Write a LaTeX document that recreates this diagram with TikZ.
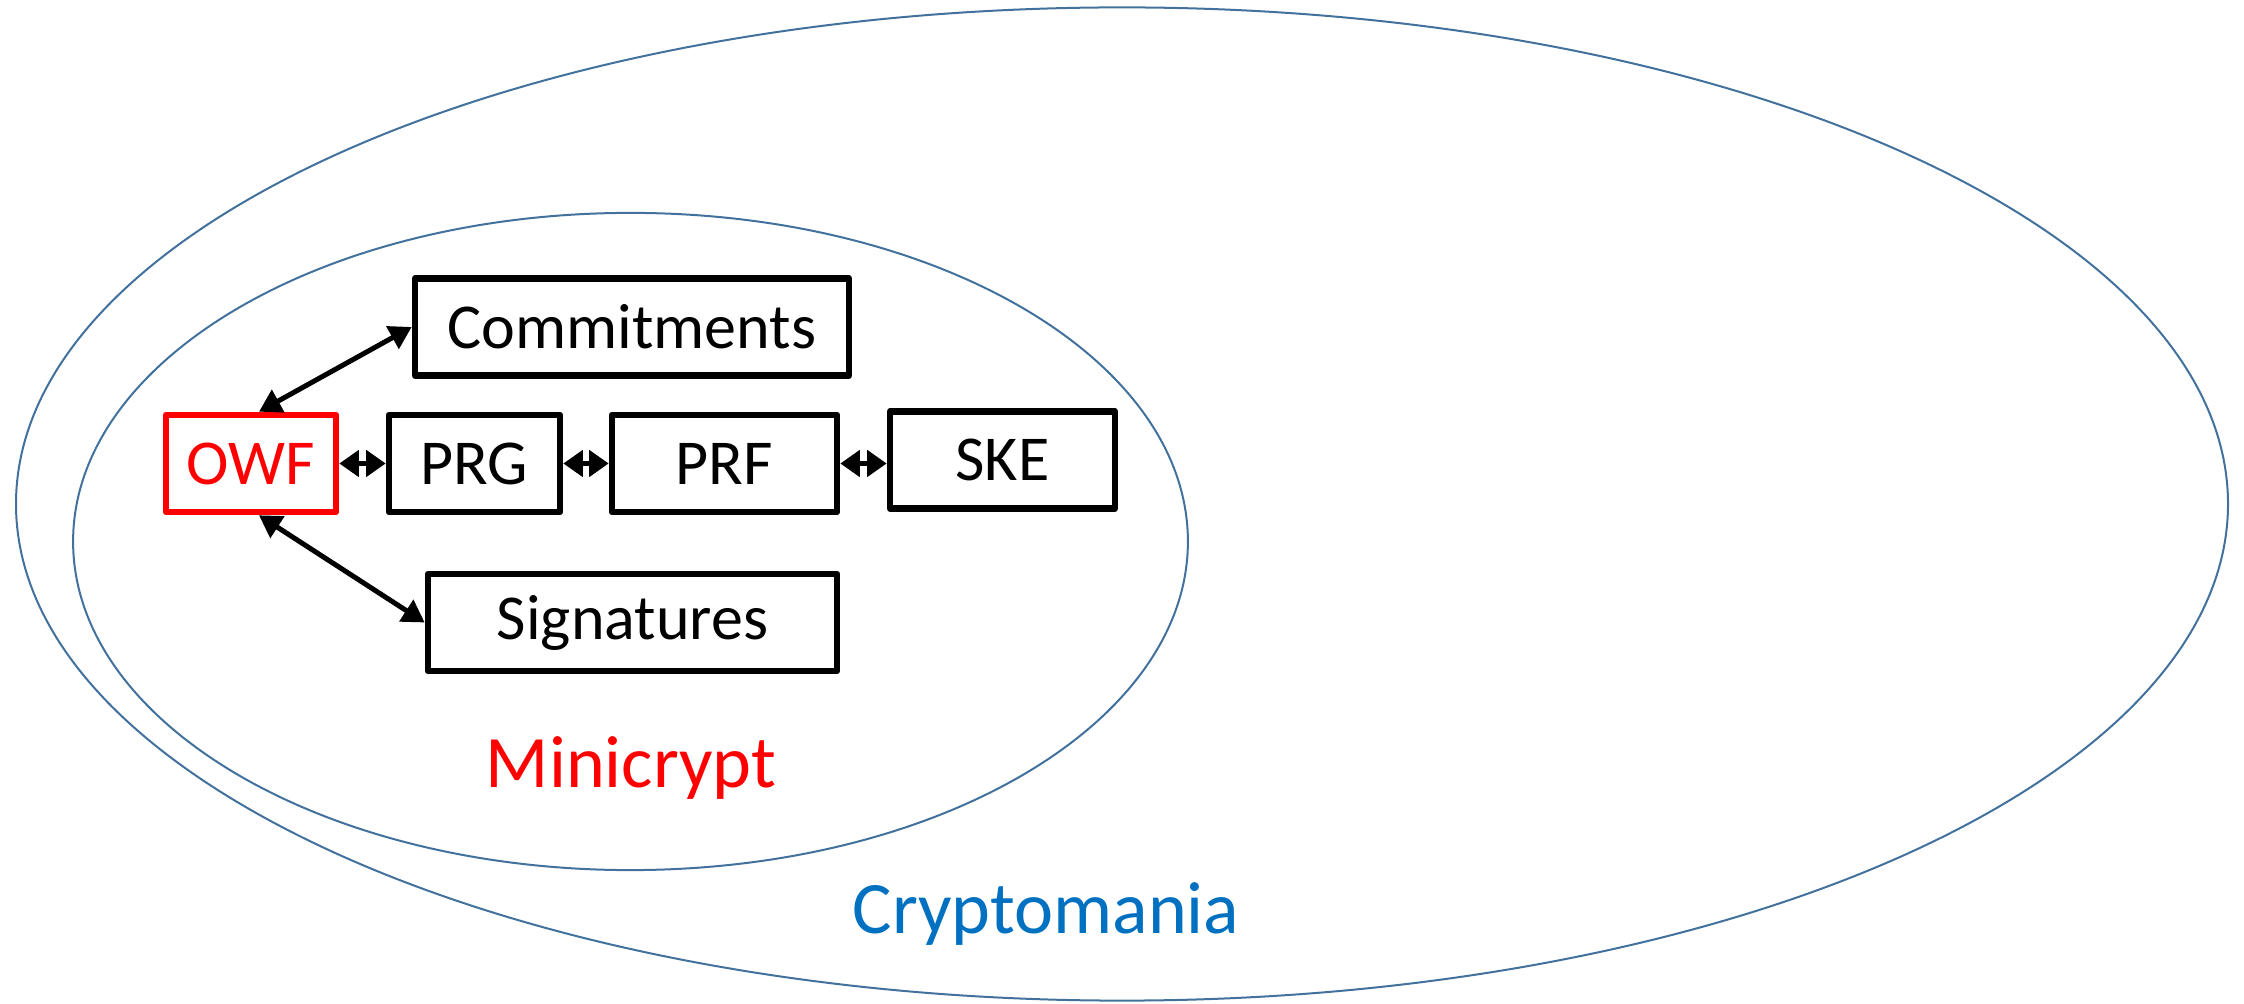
\documentclass[tikz,border=0pt]{standalone}
\usepackage{fontspec}
\setmainfont{Carlito}
\usetikzlibrary{arrows.meta}
\definecolor{ringblue}{HTML}{41719C}
\definecolor{labelblue}{HTML}{0070C0}
\definecolor{owfred}{HTML}{FF0000}
\tikzset{
  prim/.style={draw=black, line width=3.3pt, line join=round, rectangle,
    minimum height=48.5pt, inner sep=0pt, font=\fontsize{32}{38}\selectfont},
  ring/.style={draw=ringblue, line width=1pt},
  link/.style={line width=2.5pt,
    {Triangle[length=11pt,width=12.5pt]}-{Triangle[length=11pt,width=12.5pt]}},
  shortlink/.style={line width=2.5pt,
    {Triangle[length=9.8pt,width=13pt]}-{Triangle[length=9.8pt,width=13pt]}},
  world/.style={font=\fontsize{37}{44}\selectfont}
}
\begin{document}
\begin{tikzpicture}[x=0.5pt, y=-0.5pt]
  \useasboundingbox (0,0) rectangle (2244,1004);
  % worlds
  \draw[ring] (1122,504) ellipse [x radius=553pt, y radius=248.3pt];
  \draw[ring] (630.5,541.5) ellipse [x radius=278.7pt, y radius=164.3pt];
  \node[world, text=owfred] (mini) at (631,768) {Minicrypt};
  \node[world, text=labelblue] (mania) at (1046,914) {Cryptomania};
  % primitives
  \node[prim, draw=owfred, text=owfred, minimum width=85pt] (owf) at (251,463.5) {OWF};
  \node[prim, minimum width=85.5pt] (prg) at (474.5,463.5) {PRG};
  \node[prim, minimum width=112.5pt] (prf) at (724.5,463.5) {PRF};
  \node[prim, minimum width=112.5pt] (ske) at (1002.5,460) {SKE};
  \node[prim, minimum width=217pt] (com) at (632,327) {Commitments};
  \node[prim, minimum width=204.5pt] (sig) at (632.5,622.5) {Signatures};
  % equivalences
  \draw[link] ([xshift=4pt]owf.north) -- (com.west);
  \draw[link] ([xshift=4pt]owf.south) -- (sig.west);
  \draw[shortlink] (owf.east) -- (prg.west);
  \draw[shortlink] (prg.east) -- (prf.west);
  \draw[shortlink] (prf.east) -- (prf.east -| ske.west);
\end{tikzpicture}
\end{document}
